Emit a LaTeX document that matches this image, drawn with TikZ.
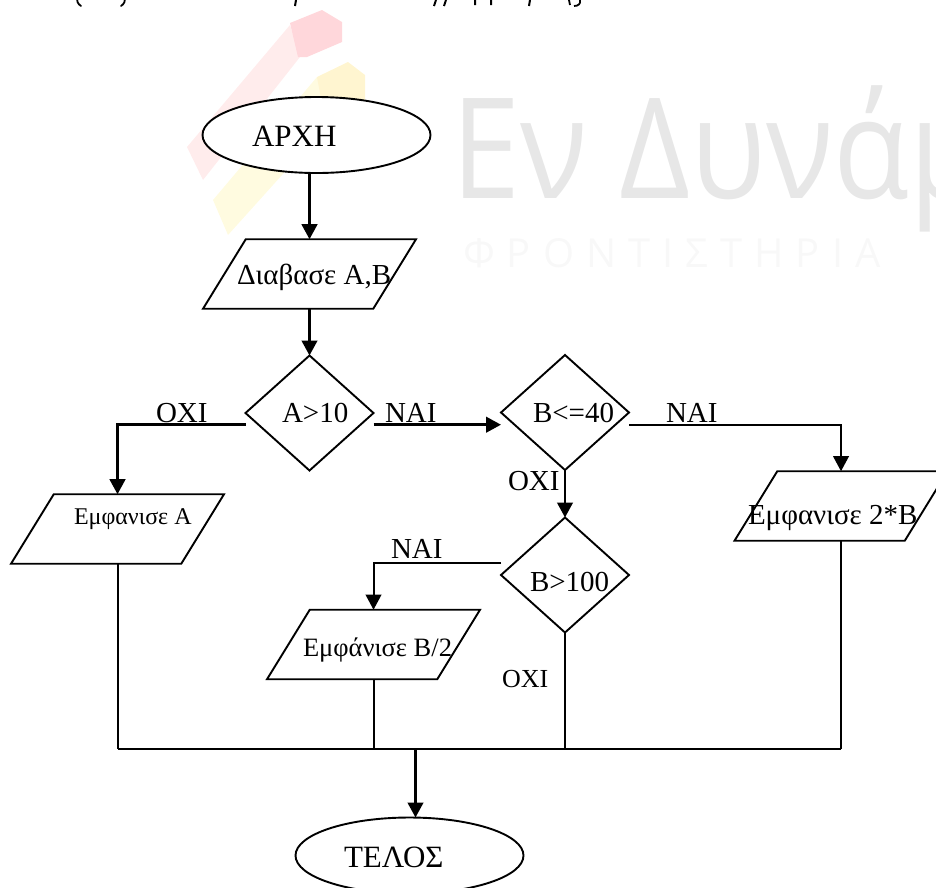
\documentclass[tikz,border=0pt]{standalone}
\usepackage{fontspec}
\setmainfont{Liberation Serif}
\newfontfamily\wmfont{Open Sans}
\newfontfamily\wmspaced[LetterSpace=30]{Open Sans}
\usetikzlibrary{shapes.geometric,arrows.meta}
\newcommand{\iobody}{\phantom{\rule{127.5pt}{69.5pt}}}
\tikzset{
  shapeline/.style={draw=black,line width=1.9pt,fill=white,inner sep=0pt,outer sep=0pt},
  startstop/.style={shapeline,ellipse,minimum width=228pt,minimum height=76pt},
  decision/.style={shapeline,diamond,aspect=1.11,minimum width=128pt,minimum height=115pt},
  inout/.style={shape=trapezium,shapeline,trapezium left angle=58.4,trapezium right angle=121.6},
  flow/.style={draw=black,line width=2pt},
  thickflow/.style={draw=black,line width=2.8pt},
  arrowflow/.style={thickflow,-{Triangle[length=15pt,width=15.5pt]}},
  txt/.style={anchor=base west,inner sep=0pt,outer sep=0pt,text=black},
  big/.style={txt,font=\fontsize{31}{31}\selectfont},
  med/.style={txt,font=\fontsize{29}{29}\selectfont},
  sml/.style={txt,font=\fontsize{24}{24}\selectfont},
}
\definecolor{pinklight}{RGB}{255,236,236}
\definecolor{pinkdark}{RGB}{255,215,219}
\definecolor{yellowlight}{RGB}{255,251,224}
\definecolor{yellowdark}{RGB}{255,245,208}
\definecolor{wmgray}{RGB}{231,231,231}
\definecolor{wmpale}{RGB}{248,248,248}
\begin{document}
\begin{tikzpicture}[x=1pt,y=-1pt]
\useasboundingbox (0,0) rectangle (936,887);
\clip (0,0) rectangle (936,887);
% watermark
\fill[pinklight] (290,25) -- (187,147) -- (203,180) -- (300,57) -- cycle;
\fill[pinkdark] (290,23) -- (322,10) -- (342,22) -- (342,42) -- (307,57) -- (298,57) -- cycle;
\fill[yellowlight] (317,77) -- (213,200) -- (228,235) -- (345,105) -- cycle;
\fill[yellowdark] (317,77) -- (348,62) -- (365,75) -- (365,110) -- (325,120) -- cycle;
\node[txt,text=wmgray,font=\wmfont\fontsize{140}{140}\selectfont,xscale=.888] (wmark) at (451,198) {Εν Δυνάμ};
\node[txt,text=wmpale,font=\wmspaced\fontsize{40}{40}\selectfont] (wmsub) at (463,267) {ΦΡΟΝΤΙΣΤΗΡΙΑ};
% cropped line at the top edge
\draw[line width=1.8pt,line cap=round] (78,-3) .. controls (76,1) and (78,4) .. (81,6);
\draw[line width=1.8pt,line cap=round] (124,-3) .. controls (126,1) and (124,4) .. (121,6);
\draw[line width=2pt] (296,0) -- (295,6) (436,0) -- (434,6) (446,0) -- (444,6)
  (475,0) -- (475,5) (491,0) -- (491,5) (530,0) -- (529,6);
\draw[line width=1.8pt] (569,0) -- (570,5) (580,0) .. controls (581,4) and (578,6) .. (574,6);
% shapes
\node[startstop] (start) at (316.5,135) {};
\node[inout] (read) at (309.5,274) {\iobody};
\node[decision] (dA) at (309.5,413) {};
\node[decision] (dB) at (565,412.5) {};
\node[decision] (dC) at (565,575) {};
\node[inout] (showA) at (117.5,529) {\iobody};
\node[inout] (showB) at (841,506) {\iobody};
\node[inout] (showC) at (373.5,644.5) {\iobody};
\node[startstop,minimum width=228pt] (stop) at (409.5,855.5) {};
% free ends and bends
\coordinate (aL) at (dA.west |- 0,424.7);
\coordinate (aR) at (dA.east |- 0,424.7);
\coordinate (bL) at (dB.west |- 0,424.7);
\coordinate (bR) at (dB.east |- 0,424.7);
\coordinate (cL) at (dC.west |- 0,563.3);
\coordinate (busL) at (showA.south |- 0,749);
\coordinate (busR) at (showB.south |- 0,749);
\coordinate (busM) at (415.5,749);
% connectors
\draw[arrowflow] (start.south -| read.north) -- (read.north);
\draw[arrowflow] (read.south) -- (dA.north);
\draw[arrowflow] (aL) -| (showA.north);
\draw[arrowflow] (aR) -- (bL);
\draw[flow,-{Triangle[length=15pt,width=15.5pt]}] (bR) -| (showB.north);
\draw[arrowflow] (dB.south) -- (dC.north);
\draw[flow,-{Triangle[length=15pt,width=15.5pt]}] (cL) -| (showC.north);
\draw[flow] (showA.south) -- (busL);
\draw[flow] (showC.south) -- (showC.south |- busL);
\draw[flow] (dC.south) -- (dC.south |- busL);
\draw[flow] (showB.south) -- (busR);
\draw[flow,line width=2.4pt] (busL) -- (busR);
\draw[arrowflow] (busM) -- (busM |- stop.north);
% texts
\node[big] (tStart) at (252,146) {ΑΡΧΗ};
\node[med] (tRead) at (237,284) {Διαβασε A,B};
\node[med] (tA) at (282,422) {A>10};
\node[med] (tNo1) at (156,422) {ΟΧΙ};
\node[med] (tYes1) at (385,422) {ΝΑΙ};
\node[med] (tB) at (533,422) {B<=40};
\node[med] (tYes2) at (666,422) {ΝΑΙ};
\node[med] (tNo2) at (508,490) {ΟΧΙ};
\node[sml] (tShowA) at (74,524) {Εμφανισε Α};
\node[med] (tShowB) at (748,524) {Εμφανισε 2*Β};
\node[med] (tC) at (530,591) {B>100};
\node[med] (tYes3) at (391,558) {ΝΑΙ};
\node[sml,font=\fontsize{26.5}{26.5}\selectfont] (tShowC) at (303,656) {Εμφάνισε Β/2};
\node[txt,font=\fontsize{26}{26}\selectfont] (tNo3) at (502,687) {ΟΧΙ};
\node[big] (tStop) at (344,867) {ΤΕΛΟΣ};
\end{tikzpicture}
\end{document}
